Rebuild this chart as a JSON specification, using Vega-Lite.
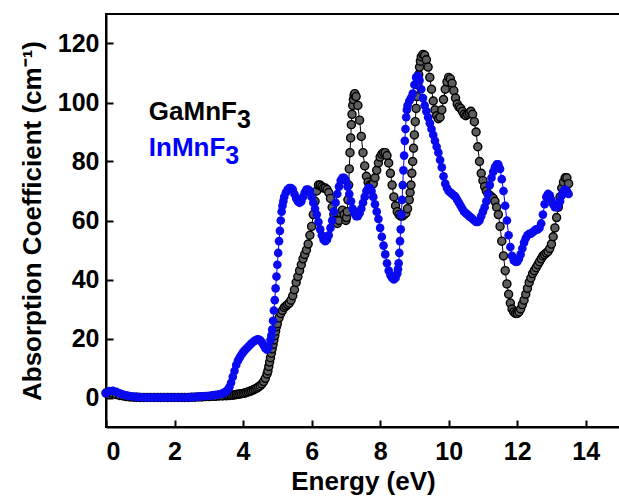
{
"$schema":"https://vega.github.io/schema/vega-lite/v6.json",
"autosize":{"type":"none"},
"padding":{"left":106,"top":14,"right":0,"bottom":71},
"width":514,"height":413,
"background":"white",
"config":{"view":{"stroke":"black","strokeWidth":2},"font":"Liberation Sans"},
"datasets":{
"ga":[{"x":0,"y":1.5},{"x":0.1,"y":1.6},{"x":0.2,"y":1.4},{"x":0.3,"y":1.0},{"x":0.4,"y":0.7},{"x":0.5,"y":0.5},{"x":0.6,"y":0.3},{"x":0.7,"y":0.2},{"x":0.8,"y":0.1},{"x":0.9,"y":0.05},{"x":1.0,"y":0},{"x":1.1,"y":0},{"x":1.2,"y":0},{"x":1.3,"y":0},{"x":1.4,"y":0},{"x":1.5,"y":0},{"x":1.6,"y":0},{"x":1.7,"y":0},{"x":1.8,"y":0},{"x":1.9,"y":0},{"x":2.0,"y":0},{"x":2.1,"y":0},{"x":2.2,"y":0},{"x":2.3,"y":0},{"x":2.4,"y":0},{"x":2.5,"y":0.1},{"x":2.6,"y":0.1},{"x":2.7,"y":0.2},{"x":2.8,"y":0.2},{"x":2.9,"y":0.3},{"x":3.0,"y":0.3},{"x":3.1,"y":0.4},{"x":3.2,"y":0.4},{"x":3.3,"y":0.5},{"x":3.4,"y":0.5},{"x":3.5,"y":0.6},{"x":3.55,"y":0.65},{"x":3.6,"y":0.7},{"x":3.65,"y":0.75},{"x":3.7,"y":0.8},{"x":3.75,"y":0.9},{"x":3.8,"y":1.0},{"x":3.85,"y":1.1},{"x":3.9,"y":1.2},{"x":3.95,"y":1.3},{"x":4.0,"y":1.4},{"x":4.05,"y":1.5},{"x":4.1,"y":1.7},{"x":4.15,"y":1.9},{"x":4.2,"y":2.1},{"x":4.25,"y":2.3},{"x":4.3,"y":2.6},{"x":4.35,"y":2.9},{"x":4.4,"y":3.2},{"x":4.45,"y":3.6},{"x":4.5,"y":4.0},{"x":4.55,"y":4.6},{"x":4.6,"y":5.4},{"x":4.65,"y":6.5},{"x":4.7,"y":8},{"x":4.725,"y":9},{"x":4.75,"y":10.5},{"x":4.775,"y":12},{"x":4.8,"y":13.5},{"x":4.825,"y":15},{"x":4.85,"y":16.5},{"x":4.875,"y":18},{"x":4.9,"y":19.5},{"x":4.925,"y":21},{"x":4.95,"y":22.5},{"x":4.975,"y":24},{"x":5.0,"y":25},{"x":5.05,"y":27},{"x":5.1,"y":28.5},{"x":5.15,"y":29.5},{"x":5.2,"y":30.5},{"x":5.25,"y":31},{"x":5.3,"y":31.5},{"x":5.35,"y":32},{"x":5.4,"y":33},{"x":5.45,"y":34.5},{"x":5.5,"y":36.5},{"x":5.55,"y":39},{"x":5.6,"y":41},{"x":5.65,"y":43},{"x":5.7,"y":45},{"x":5.75,"y":47},{"x":5.8,"y":48.5},{"x":5.85,"y":50},{"x":5.9,"y":52},{"x":5.95,"y":55},{"x":6.0,"y":58},{"x":6.05,"y":62},{"x":6.1,"y":66.5},{"x":6.15,"y":70},{"x":6.2,"y":72},{"x":6.25,"y":72},{"x":6.3,"y":71.5},{"x":6.35,"y":71},{"x":6.4,"y":71},{"x":6.45,"y":70.5},{"x":6.5,"y":69.5},{"x":6.55,"y":67.5},{"x":6.6,"y":64.5},{"x":6.65,"y":62},{"x":6.7,"y":60},{"x":6.75,"y":59},{"x":6.8,"y":60},{"x":6.85,"y":62.5},{"x":6.9,"y":63.5},{"x":6.95,"y":62},{"x":7.0,"y":60},{"x":7.02,"y":61},{"x":7.04,"y":63},{"x":7.06,"y":67},{"x":7.08,"y":72},{"x":7.1,"y":77.5},{"x":7.12,"y":83},{"x":7.14,"y":88},{"x":7.16,"y":92.5},{"x":7.18,"y":96},{"x":7.2,"y":99},{"x":7.22,"y":101},{"x":7.24,"y":102.5},{"x":7.26,"y":103},{"x":7.3,"y":102},{"x":7.35,"y":99},{"x":7.4,"y":94},{"x":7.45,"y":88.5},{"x":7.5,"y":83},{"x":7.55,"y":78.5},{"x":7.6,"y":75},{"x":7.65,"y":73},{"x":7.7,"y":72},{"x":7.75,"y":72},{"x":7.8,"y":72.5},{"x":7.85,"y":74.5},{"x":7.9,"y":77},{"x":7.95,"y":79.5},{"x":8.0,"y":81.5},{"x":8.05,"y":82.5},{"x":8.1,"y":83},{"x":8.15,"y":83},{"x":8.2,"y":82},{"x":8.25,"y":79.5},{"x":8.3,"y":76},{"x":8.35,"y":72},{"x":8.4,"y":68},{"x":8.45,"y":65},{"x":8.5,"y":63},{"x":8.55,"y":62},{"x":8.6,"y":61.5},{"x":8.65,"y":61.5},{"x":8.7,"y":62},{"x":8.75,"y":62.5},{"x":8.8,"y":64},{"x":8.85,"y":67},{"x":8.875,"y":69.5},{"x":8.9,"y":72},{"x":8.925,"y":76},{"x":8.95,"y":80},{"x":8.975,"y":84.5},{"x":9.0,"y":89},{"x":9.025,"y":93.5},{"x":9.05,"y":98},{"x":9.075,"y":102},{"x":9.1,"y":106},{"x":9.125,"y":109.5},{"x":9.15,"y":112},{"x":9.175,"y":114},{"x":9.2,"y":115.5},{"x":9.25,"y":116.3},{"x":9.3,"y":116},{"x":9.35,"y":114.5},{"x":9.4,"y":112},{"x":9.45,"y":108.5},{"x":9.5,"y":104.5},{"x":9.55,"y":100.5},{"x":9.6,"y":97.5},{"x":9.65,"y":95.5},{"x":9.7,"y":94.5},{"x":9.75,"y":95},{"x":9.8,"y":97.5},{"x":9.85,"y":101},{"x":9.9,"y":104.5},{"x":9.95,"y":107},{"x":10.0,"y":108.5},{"x":10.05,"y":108},{"x":10.1,"y":106.5},{"x":10.15,"y":104},{"x":10.2,"y":101.5},{"x":10.25,"y":99.5},{"x":10.3,"y":98.5},{"x":10.35,"y":98},{"x":10.4,"y":97},{"x":10.45,"y":96},{"x":10.5,"y":95.5},{"x":10.55,"y":96},{"x":10.6,"y":96.5},{"x":10.65,"y":97},{"x":10.7,"y":96},{"x":10.75,"y":93.5},{"x":10.8,"y":90},{"x":10.85,"y":85},{"x":10.9,"y":80},{"x":10.95,"y":76},{"x":11.0,"y":73.5},{"x":11.05,"y":71.5},{"x":11.1,"y":70},{"x":11.15,"y":69},{"x":11.2,"y":68.5},{"x":11.25,"y":68},{"x":11.3,"y":67.5},{"x":11.35,"y":66.5},{"x":11.4,"y":64.5},{"x":11.45,"y":62},{"x":11.5,"y":58},{"x":11.55,"y":53},{"x":11.6,"y":48},{"x":11.65,"y":43},{"x":11.7,"y":38.5},{"x":11.75,"y":35},{"x":11.8,"y":32},{"x":11.85,"y":30},{"x":11.9,"y":29},{"x":11.95,"y":28.5},{"x":12.0,"y":28.5},{"x":12.05,"y":29},{"x":12.1,"y":30},{"x":12.15,"y":31.5},{"x":12.2,"y":33},{"x":12.25,"y":35},{"x":12.3,"y":37},{"x":12.35,"y":39},{"x":12.4,"y":40.5},{"x":12.45,"y":42},{"x":12.5,"y":43},{"x":12.55,"y":44},{"x":12.6,"y":45},{"x":12.65,"y":46},{"x":12.7,"y":47},{"x":12.75,"y":48},{"x":12.8,"y":48.5},{"x":12.85,"y":49},{"x":12.9,"y":49.5},{"x":12.95,"y":50.5},{"x":13.0,"y":52},{"x":13.05,"y":54.5},{"x":13.1,"y":57.5},{"x":13.15,"y":61},{"x":13.2,"y":64.5},{"x":13.25,"y":68},{"x":13.3,"y":71},{"x":13.35,"y":73},{"x":13.4,"y":74.5},{"x":13.45,"y":74.5},{"x":13.5,"y":72.5}],
"in":[{"x":0,"y":1.5},{"x":0.1,"y":2.2},{"x":0.2,"y":2.3},{"x":0.3,"y":1.9},{"x":0.4,"y":1.4},{"x":0.5,"y":1.0},{"x":0.6,"y":0.7},{"x":0.7,"y":0.5},{"x":0.8,"y":0.3},{"x":0.9,"y":0.2},{"x":1.0,"y":0.1},{"x":1.1,"y":0},{"x":1.2,"y":0},{"x":1.3,"y":0},{"x":1.4,"y":0},{"x":1.5,"y":0},{"x":1.6,"y":0},{"x":1.7,"y":0},{"x":1.8,"y":0},{"x":1.9,"y":0},{"x":2.0,"y":0},{"x":2.1,"y":0},{"x":2.2,"y":0},{"x":2.3,"y":0},{"x":2.4,"y":0},{"x":2.5,"y":0.1},{"x":2.6,"y":0.2},{"x":2.7,"y":0.3},{"x":2.8,"y":0.4},{"x":2.9,"y":0.5},{"x":3.0,"y":0.6},{"x":3.1,"y":0.7},{"x":3.2,"y":0.9},{"x":3.3,"y":1.1},{"x":3.4,"y":1.4},{"x":3.45,"y":1.7},{"x":3.5,"y":2.0},{"x":3.55,"y":2.6},{"x":3.6,"y":3.5},{"x":3.65,"y":5},{"x":3.7,"y":7},{"x":3.75,"y":9},{"x":3.8,"y":11},{"x":3.85,"y":12.5},{"x":3.9,"y":13.5},{"x":3.95,"y":14.5},{"x":4.0,"y":15.3},{"x":4.05,"y":16},{"x":4.1,"y":16.6},{"x":4.15,"y":17.2},{"x":4.2,"y":17.8},{"x":4.25,"y":18.4},{"x":4.3,"y":18.9},{"x":4.35,"y":19.3},{"x":4.4,"y":19.6},{"x":4.45,"y":19.7},{"x":4.5,"y":19.4},{"x":4.55,"y":18.7},{"x":4.6,"y":17.7},{"x":4.65,"y":16.7},{"x":4.7,"y":16.2},{"x":4.75,"y":17.2},{"x":4.8,"y":19.5},{"x":4.825,"y":21},{"x":4.85,"y":23},{"x":4.875,"y":26},{"x":4.9,"y":29.5},{"x":4.925,"y":33},{"x":4.95,"y":37},{"x":4.975,"y":41},{"x":5.0,"y":45},{"x":5.025,"y":49},{"x":5.05,"y":53},{"x":5.075,"y":56.5},{"x":5.1,"y":60},{"x":5.125,"y":63},{"x":5.15,"y":65},{"x":5.175,"y":66.5},{"x":5.2,"y":68},{"x":5.25,"y":69.5},{"x":5.3,"y":70.5},{"x":5.35,"y":71},{"x":5.4,"y":71},{"x":5.45,"y":70.5},{"x":5.5,"y":69},{"x":5.55,"y":67.5},{"x":5.6,"y":66.5},{"x":5.65,"y":66},{"x":5.7,"y":66.5},{"x":5.75,"y":68},{"x":5.8,"y":69.5},{"x":5.85,"y":70.5},{"x":5.9,"y":70.5},{"x":5.95,"y":70},{"x":6.0,"y":68},{"x":6.05,"y":66},{"x":6.1,"y":64},{"x":6.15,"y":62},{"x":6.2,"y":59.5},{"x":6.25,"y":57},{"x":6.3,"y":55},{"x":6.35,"y":53.5},{"x":6.4,"y":53},{"x":6.45,"y":53.5},{"x":6.5,"y":55},{"x":6.55,"y":57.5},{"x":6.6,"y":60},{"x":6.65,"y":63},{"x":6.7,"y":66},{"x":6.75,"y":69},{"x":6.8,"y":71.5},{"x":6.85,"y":73.5},{"x":6.9,"y":74.5},{"x":6.95,"y":74.5},{"x":7.0,"y":73.5},{"x":7.05,"y":71.5},{"x":7.1,"y":69},{"x":7.15,"y":66.5},{"x":7.2,"y":64},{"x":7.25,"y":62.5},{"x":7.3,"y":61.5},{"x":7.35,"y":61.5},{"x":7.4,"y":62.5},{"x":7.45,"y":64},{"x":7.5,"y":66},{"x":7.55,"y":68},{"x":7.6,"y":70},{"x":7.65,"y":71},{"x":7.7,"y":71},{"x":7.75,"y":70},{"x":7.8,"y":68},{"x":7.85,"y":65.5},{"x":7.9,"y":63},{"x":7.95,"y":60.5},{"x":8.0,"y":57.5},{"x":8.05,"y":54.5},{"x":8.1,"y":51.5},{"x":8.15,"y":48.5},{"x":8.2,"y":45.5},{"x":8.25,"y":43},{"x":8.3,"y":41.5},{"x":8.35,"y":40.5},{"x":8.4,"y":40},{"x":8.45,"y":40.5},{"x":8.5,"y":42},{"x":8.52,"y":43.5},{"x":8.54,"y":45.5},{"x":8.56,"y":49},{"x":8.58,"y":53},{"x":8.6,"y":57},{"x":8.62,"y":62},{"x":8.64,"y":67},{"x":8.66,"y":72},{"x":8.68,"y":77},{"x":8.7,"y":82},{"x":8.72,"y":87},{"x":8.74,"y":91},{"x":8.76,"y":95},{"x":8.78,"y":97.5},{"x":8.8,"y":99},{"x":8.85,"y":100.5},{"x":8.9,"y":101.5},{"x":8.95,"y":103},{"x":9.0,"y":106},{"x":9.05,"y":108.5},{"x":9.1,"y":109},{"x":9.15,"y":107.5},{"x":9.2,"y":104.5},{"x":9.25,"y":101.5},{"x":9.3,"y":99},{"x":9.35,"y":97},{"x":9.4,"y":95},{"x":9.45,"y":93},{"x":9.5,"y":91},{"x":9.55,"y":89},{"x":9.6,"y":87},{"x":9.65,"y":85},{"x":9.7,"y":83},{"x":9.75,"y":80.5},{"x":9.8,"y":78},{"x":9.85,"y":75},{"x":9.9,"y":72.5},{"x":9.95,"y":71},{"x":10.0,"y":70},{"x":10.05,"y":69.5},{"x":10.1,"y":69},{"x":10.15,"y":68.5},{"x":10.2,"y":68},{"x":10.25,"y":67},{"x":10.3,"y":66},{"x":10.35,"y":65},{"x":10.4,"y":64},{"x":10.45,"y":63},{"x":10.5,"y":62.5},{"x":10.55,"y":62},{"x":10.6,"y":61.5},{"x":10.65,"y":61},{"x":10.7,"y":60.5},{"x":10.75,"y":60},{"x":10.8,"y":59.5},{"x":10.85,"y":59.5},{"x":10.9,"y":60},{"x":10.95,"y":61.5},{"x":11.0,"y":63},{"x":11.05,"y":64.5},{"x":11.1,"y":66.5},{"x":11.15,"y":69},{"x":11.2,"y":72},{"x":11.25,"y":74.5},{"x":11.3,"y":76.5},{"x":11.35,"y":78},{"x":11.4,"y":79},{"x":11.45,"y":79},{"x":11.5,"y":77.5},{"x":11.55,"y":74},{"x":11.6,"y":70},{"x":11.65,"y":65},{"x":11.7,"y":60},{"x":11.75,"y":55},{"x":11.8,"y":51},{"x":11.85,"y":48},{"x":11.9,"y":46.5},{"x":11.95,"y":46},{"x":12.0,"y":46},{"x":12.05,"y":47},{"x":12.1,"y":48.5},{"x":12.15,"y":50.5},{"x":12.2,"y":52.5},{"x":12.25,"y":54},{"x":12.3,"y":55},{"x":12.35,"y":55.5},{"x":12.4,"y":55.5},{"x":12.45,"y":56},{"x":12.5,"y":56.5},{"x":12.55,"y":57},{"x":12.6,"y":57},{"x":12.65,"y":57.5},{"x":12.7,"y":59},{"x":12.75,"y":62},{"x":12.8,"y":65.5},{"x":12.85,"y":68},{"x":12.9,"y":69},{"x":12.95,"y":68.5},{"x":13.0,"y":67},{"x":13.05,"y":65.5},{"x":13.1,"y":64.5},{"x":13.15,"y":64.5},{"x":13.2,"y":65},{"x":13.25,"y":66.5},{"x":13.3,"y":68.5},{"x":13.35,"y":70},{"x":13.4,"y":70.5},{"x":13.45,"y":70},{"x":13.5,"y":69}],
"lg":[{"x":1.25,"y":94,"t":"GaMnF","c":"black"},{"x":1.25,"y":82,"t":"InMnF","c":"#0000ff"}],
"sub":[{"x":3.82,"y":94,"t":"3","c":"black"},{"x":3.48,"y":82,"t":"3","c":"#0000ff"}]
},
"layer":[
{"data":{"name":"ga"},"mark":{"type":"line","color":"black","strokeWidth":1},
 "encoding":{
  "x":{"field":"x","type":"quantitative","scale":{"domain":[0,15],"nice":false},
   "axis":{"title":"Energy (eV)","values":[0,1,2,3,4,5,6,7,8,9,10,11,12,13,14],
    "labelExpr":"datum.value % 2 === 0 ? datum.label : ''",
    "tickSize":{"condition":{"test":"datum.value % 2 === 1","value":-4},"value":-7},
    "grid":false,"domainColor":"black","domainWidth":2,"tickColor":"black","tickWidth":2,
    "labelFont":"Liberation Sans","labelFontSize":25,"labelFontWeight":"bold","labelColor":"black","labelPadding":19,
    "titleFont":"Liberation Sans","titleFontSize":26,"titleFontWeight":"bold","titleColor":"black","titlePadding":4}},
  "y":{"field":"y","type":"quantitative","scale":{"domain":[-10,130],"nice":false},
   "axis":{"title":"Absorption Coefficient (cm⁻¹)","values":[0,10,20,30,40,50,60,70,80,90,100,110,120],
    "labelExpr":"datum.value % 20 === 0 ? datum.label : ''",
    "tickSize":{"condition":{"test":"datum.value % 20 === 10","value":-4},"value":-7},
    "grid":false,"domainColor":"black","domainWidth":2,"tickColor":"black","tickWidth":2,
    "labelFont":"Liberation Sans","labelFontSize":25,"labelFontWeight":"bold","labelColor":"black","labelPadding":14,
    "titleFont":"Liberation Sans","titleFontSize":26,"titleFontWeight":"bold","titleColor":"black","titlePadding":12}}
 }},
{"data":{"name":"ga"},"mark":{"type":"point","filled":true,"fill":"#5e5e5e","stroke":"black","strokeWidth":1.4,"size":65,"opacity":1},
 "encoding":{"x":{"field":"x","type":"quantitative"},"y":{"field":"y","type":"quantitative"}}},
{"data":{"name":"in"},"mark":{"type":"line","color":"#0000ff","strokeWidth":1},
 "encoding":{"x":{"field":"x","type":"quantitative"},"y":{"field":"y","type":"quantitative"}}},
{"data":{"name":"in"},"mark":{"type":"point","filled":true,"fill":"#0a0af0","strokeWidth":0,"size":75,"opacity":1},
 "encoding":{"x":{"field":"x","type":"quantitative"},"y":{"field":"y","type":"quantitative"}}},
{"data":{"name":"lg"},"mark":{"type":"text","align":"left","baseline":"alphabetic","font":"Liberation Sans","fontSize":26,"fontWeight":"bold"},
 "encoding":{"x":{"field":"x","type":"quantitative"},"y":{"field":"y","type":"quantitative"},"text":{"field":"t"},"color":{"field":"c","type":"nominal","scale":null}}},
{"data":{"name":"sub"},"mark":{"type":"text","align":"left","baseline":"alphabetic","font":"Liberation Sans","fontSize":25,"fontWeight":"bold","dy":8},
 "encoding":{"x":{"field":"x","type":"quantitative"},"y":{"field":"y","type":"quantitative"},"text":{"field":"t"},"color":{"field":"c","type":"nominal","scale":null}}}
]
}
